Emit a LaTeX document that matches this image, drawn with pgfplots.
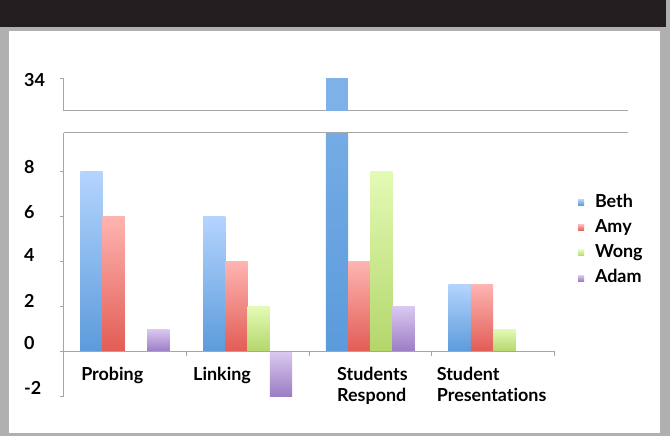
\documentclass[border=0pt]{standalone}
\usepackage{pgfplots}
\pgfplotsset{compat=1.18}
\usepackage{fontspec}
\setmainfont{Lato}[Ligatures=NoCommon]

\definecolor{framegray}{HTML}{B0B0B0}
\definecolor{band}{HTML}{231F20}
\definecolor{axisgray}{HTML}{A6A6A6}
\definecolor{bethT}{HTML}{B4D4FE}
\definecolor{bethB}{HTML}{5B9BDB}
\definecolor{bethM}{HTML}{6FA8E6}
\definecolor{amyT}{HTML}{FEB4B1}
\definecolor{amyB}{HTML}{E25C55}
\definecolor{amyM}{HTML}{F07A75}
\definecolor{wongT}{HTML}{E3FAB5}
\definecolor{wongB}{HTML}{B3D66A}
\definecolor{wongM}{HTML}{C5E88A}
\definecolor{adamT}{HTML}{DAC8F0}
\definecolor{adamB}{HTML}{9A7CC4}
\definecolor{adamM}{HTML}{B49AD8}

\newcommand\lblfont{\fontsize{18}{21}\selectfont\bfseries}

\pgfplotsset{
  brk/.style={
    scale only axis, width=564.5bp,
    xmin=-0.5, xmax=4.0988,
    axis y line*=left,
    y axis line style={axisgray, line width=1bp},
    tick align=outside,
    tick style={axisgray, line width=0.8bp},
    major tick length=4bp,
    tick label style={font=\lblfont, text=black},
    yticklabel style={anchor=west, inner sep=0pt, xshift=-39.5bp},
    ybar, bar width=0.1817,
  },
  % one \addplot per bar, so that each bar gets its own gradient
  beth/.style={draw=none, bar shift=-0.2726, top color=bethT, bottom color=bethB},
  amy/.style={draw=none, bar shift=-0.0909, top color=amyT, bottom color=amyB},
  wong/.style={draw=none, bar shift=0.0909, top color=wongT, bottom color=wongB},
  adam/.style={draw=none, bar shift=0.2726, top color=adamT, bottom color=adamB},
  sq/.style={legend image code/.code={\fill[#1] (0bp,-3bp) rectangle (6bp,3bp);}},
}

\begin{document}
\begin{tikzpicture}
\fill[framegray] (0bp,0bp) rectangle (670bp,436bp);
\fill[band] (0bp,409bp) rectangle (666bp,436bp);
\fill[white] (9bp,3bp) rectangle (660bp,405bp);

% upper part of the broken axis
\begin{axis}[brk,
  at={(63.5bp,325bp)}, anchor=south west, height=32.7bp,
  ymin=32.533, ymax=34,
  axis x line*=bottom,
  x axis line style={axisgray, line width=1bp},
  xtick=\empty,
  ytick={34}, yticklabels={},
  extra y ticks={33.92}, extra y tick labels={34},
  extra y tick style={major tick length=0pt},
]
\addplot[bar shift=-0.2726, draw=none, fill=bethM!90!white] coordinates {(2,34)};
\end{axis}

% lower part of the broken axis
\begin{axis}[brk,
  at={(63.5bp,39.3bp)}, anchor=south west, height=264bp,
  ymin=-2, ymax=9.733,
  axis x line*=middle,
  x axis line style={draw=none},
  hide obscured x ticks=false, hide obscured y ticks=false,
  ytick={-2,0,2,4,6,8}, yticklabels={},
  xtick={-0.5,0.5,1.5,2.5,3.5}, xticklabels={},
  extra y ticks={-1.59,0.39,2.25,4.30,6.19,8.19},
  extra y tick labels={-2,0,2,4,6,8},
  extra x ticks={-0.357,0.555,1.728,2.54},
  extra x tick labels={Probing,Linking,Students\\Respond,Student\\Presentations},
  extra tick style={major tick length=0pt},
  extra x tick style={xticklabel style={anchor=north west, align=left, inner sep=0pt, yshift=-15bp}},
  legend style={draw=none, fill=none, at={(axis cs:3.69,7.08)}, anchor=north west,
    font=\lblfont, inner sep=0pt, row sep=5.8bp,
    nodes={inner sep=1bp, text height=13.5bp, text depth=4bp},
    /tikz/every odd column/.append style={column sep=10bp}},
  legend cell align=left,
]
% Beth
\addplot[beth, sq=bethM] coordinates {(0,8)};
\addplot[beth, forget plot] coordinates {(1,6)};
\addplot[beth, forget plot] coordinates {(2,34)};
\addplot[beth, forget plot] coordinates {(3,3)};
% Amy
\addplot[amy, sq=amyM] coordinates {(0,6)};
\addplot[amy, forget plot] coordinates {(1,4)};
\addplot[amy, forget plot] coordinates {(2,4)};
\addplot[amy, forget plot] coordinates {(3,3)};
% Wong
\addplot[wong, sq=wongM] coordinates {(1,2)};
\addplot[wong, forget plot] coordinates {(2,8)};
\addplot[wong, forget plot] coordinates {(3,1)};
% Adam
\addplot[adam, sq=adamM] coordinates {(0,1)};
\addplot[adam, forget plot] coordinates {(1,-2)};
\addplot[adam, forget plot] coordinates {(2,2)};
\legend{Beth,Amy,Wong,Adam}
\draw[axisgray, line width=1bp] (rel axis cs:0,1) -- (rel axis cs:1,1);
\draw[axisgray, line width=1bp] (axis cs:-0.5,0) -- (axis cs:3.5,0);
\end{axis}
\pgfresetboundingbox
\useasboundingbox (0bp,0bp) rectangle (670bp,436bp);
\end{tikzpicture}
\end{document}
